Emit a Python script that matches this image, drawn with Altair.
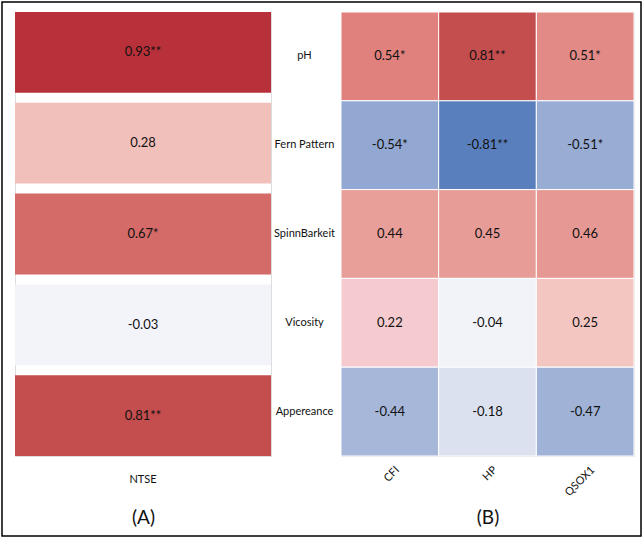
import altair as alt
import pandas as pd

rows = ["pH", "Fern Pattern", "SpinnBarkeit", "Vicosity", "Appereance"]

ntse_vals = [0.93, 0.28, 0.67, -0.03, 0.81]
ntse_labels = ["0.93**", "0.28", "0.67*", "-0.03", "0.81**"]

genes = ["CFI", "HP", "QSOX1"]
cfi_vals = [0.54, -0.54, 0.44, 0.22, -0.44]
hp_vals = [0.81, -0.81, 0.45, -0.04, -0.18]
qsox1_vals = [0.51, -0.51, 0.46, 0.25, -0.47]
cfi_labels = ["0.54*", "-0.54*", "0.44", "0.22", "-0.44"]
hp_labels = ["0.81**", "-0.81**", "0.45", "-0.04", "-0.18"]
qsox1_labels = ["0.51*", "-0.51*", "0.46", "0.25", "-0.47"]

color_domain = [-1, -0.81, -0.5, -0.18, 0, 0.25, 0.45, 0.54, 0.67, 0.81, 0.93, 1]
color_range = ["#3d62ab", "#5a7fbd", "#9aaed5", "#dce1ef", "#f7f8fc", "#f3c6c2",
               "#e79c97", "#e0817d", "#d46b68", "#c44d4e", "#b8303a", "#b0202e"]

FONT = "Lato"

df_left = pd.DataFrame({"col": ["NTSE"] * len(rows), "row": rows,
                        "value": ntse_vals, "label": ntse_labels})

rec = []
for g, vals, labs in zip(genes, [cfi_vals, hp_vals, qsox1_vals],
                         [cfi_labels, hp_labels, qsox1_labels]):
    for r, v, l in zip(rows, vals, labs):
        rec.append({"col": g, "row": r, "value": v, "label": l})
df_right = pd.DataFrame(rec)

color = alt.Color("value:Q", scale=alt.Scale(domain=color_domain, range=color_range),
                  legend=None)

# ---- left panel (A)
xl = alt.X("col:N", scale=alt.Scale(paddingInner=0, paddingOuter=0),
           axis=alt.Axis(title="(A)", labelAngle=0, ticks=False, domain=False,
                         labelPadding=17, labelFontSize=11, labelColor="#111",
                         titleFontSize=19, titleFontWeight="normal", titleY=61,
                         titleBaseline="middle", titleColor="#111"))
yl = alt.Y("row:N", sort=rows, scale=alt.Scale(paddingInner=0.11, paddingOuter=0),
           axis=None)
left_base = alt.Chart(df_left).encode(x=xl, y=yl)
left_rect = left_base.mark_rect().encode(color=color)
left_text = left_base.mark_text(fontSize=13, color="#111", font=FONT).encode(text="label:N")
frame = alt.Chart(pd.DataFrame({"a": [0]})).mark_rect(
    fillOpacity=0, stroke="black", strokeWidth=1.5
).encode(x=alt.value(-13), x2=alt.value(626), y=alt.value(-10), y2=alt.value(524))
left = alt.layer(left_rect, left_text, frame).properties(width=256, height=444)

# ---- right panel (B)
xr = alt.X("col:N", sort=genes, scale=alt.Scale(paddingInner=0, paddingOuter=0),
           axis=alt.Axis(title="(B)", labelAngle=315, labelAlign="right",
                         labelBaseline="middle", labelOffset=8, ticks=False,
                         domain=False, labelPadding=12, labelFontSize=11,
                         labelColor="#111", titleFontSize=19,
                         titleFontWeight="normal", titleY=61,
                         titleBaseline="middle", titleColor="#111"))
yr = alt.Y("row:N", sort=rows, scale=alt.Scale(paddingInner=0, paddingOuter=0),
           axis=alt.Axis(title=None, ticks=False, domain=False, labelAlign="center",
                         labelPadding=37, labelFontSize=11, labelColor="#111"))
right_base = alt.Chart(df_right).encode(x=xr, y=yr)
right_rect = right_base.mark_rect(stroke="white", strokeWidth=1).encode(color=color)
right_text = right_base.mark_text(fontSize=13, color="#111", font=FONT).encode(text="label:N")
right = alt.layer(right_rect, right_text).properties(width=293, height=444)

chart = alt.hconcat(left, right, spacing=70, bounds="flush").properties(
    padding={"left": 0, "top": 0, "right": 0, "bottom": 0},
    background="white",
).configure_view(stroke=None).configure(font=FONT)

chart.save("out.html", embed_options={"renderer": "svg", "actions": False})
